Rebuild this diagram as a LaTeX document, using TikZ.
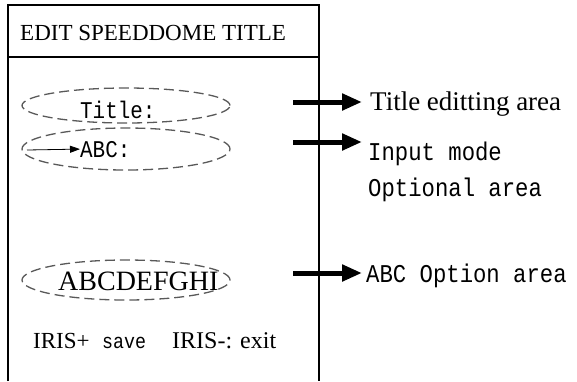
\documentclass[tikz,border=0pt]{standalone}
\usepackage{fontspec}
\setmainfont{Liberation Serif}
\newfontfamily\monofont[FakeStretch=0.87]{Liberation Mono}
\usetikzlibrary{arrows.meta,shapes.geometric}

\tikzset{
  frame/.style={line width=1.3pt, black},
  area/.style={ellipse, draw=black!65, dashed, dash pattern=on 10pt off 5pt,
               line width=1.3pt, minimum width=208pt, inner sep=0pt},
  txt/.style={inner sep=0pt, anchor=base west, text=black},
  bigarrow/.style={line width=5pt, -{Triangle[length=20pt,width=16pt]}},
  smallarrow/.style={line width=0.8pt, -{Triangle[length=10pt,width=7pt]}},
}

\begin{document}
\begin{tikzpicture}[x=1pt,y=-1pt]
  \useasboundingbox (0,0) rectangle (577,381);

  % menu frame, open at the bottom
  \draw[frame] (8,381) -- (8,5) -- (319,5) -- (319,381);
  \draw[frame] (8,57) -- (319,57);
  \node[txt, font=\fontsize{23}{23}\selectfont] (head) at (20,40) {EDIT SPEEDDOME TITLE};

  % dashed areas of the menu
  \node[area, minimum height=35pt] (e1) at (126,105.5) {};
  \node[area, minimum height=42pt] (e2) at (126,149) {};
  \node[area, minimum height=40pt] (e3) at (126,280) {};

  \node[txt, font=\monofont\fontsize{24}{24}\selectfont] (title) at (80,118) {Title:};
  \node[txt, font=\monofont\fontsize{24}{24}\selectfont] (abc) at (80,157) {ABC:};
  \coordinate (cur) at (27,150);
  \draw[smallarrow] (cur) -- (abc.west);

  \node[txt, font=\fontsize{28}{28}\selectfont] (letters) at (58,290) {ABCDEFGHI};

  \node[txt, font=\fontsize{23}{23}\selectfont] (save) at (33,348) {IRIS+};
  \node[txt, font=\monofont\fontsize{21}{21}\selectfont] (savew) at (102,348) {save};
  \node[txt, font=\fontsize{24}{24}\selectfont] (exit) at (172,348) {IRIS-: exit};

  % explanations on the right
  \node[txt, font=\fontsize{27}{27}\selectfont] (l1) at (370,110) {Title editting area};
  \node[txt, font=\monofont\fontsize{25.6}{25.6}\selectfont] (l2) at (368,160) {Input mode};
  \node[txt, font=\monofont\fontsize{25.6}{25.6}\selectfont] (l3) at (368,196) {Optional area};
  \node[txt, font=\monofont\fontsize{25.6}{25.6}\selectfont] (l4) at (366,282) {ABC Option area};

  \coordinate (a1s) at (293,102);  \coordinate (a1e) at (362,102);
  \coordinate (a2s) at (293,142);  \coordinate (a2e) at (362,142);
  \coordinate (a3s) at (293,273);  \coordinate (a3e) at (362,273);
  \draw[bigarrow] (a1s) -- (a1e);
  \draw[bigarrow] (a2s) -- (a2e);
  \draw[bigarrow] (a3s) -- (a3e);
\end{tikzpicture}
\end{document}
